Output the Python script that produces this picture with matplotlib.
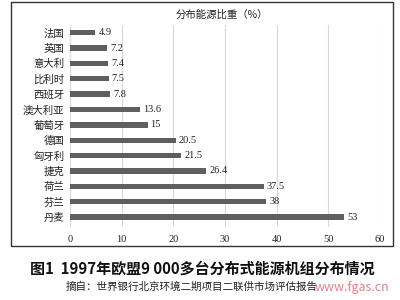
import matplotlib
matplotlib.use("Agg")
import matplotlib.pyplot as plt
from matplotlib.patches import Rectangle

plt.rcParams['font.family'] = ['Noto Sans CJK SC', 'DejaVu Sans']

countries = ['法国', '英国', '意大利', '比利时', '西班牙', '澳大利亚', '葡萄牙',
             '德国', '匈牙利', '捷克', '荷兰', '芬兰', '丹麦']
values = [4.9, 7.2, 7.4, 7.5, 7.8, 13.6, 15, 20.5, 21.5, 26.4, 37.5, 38, 53]
value_labels = ['4.9', '7.2', '7.4', '7.5', '7.8', '13.6', '15', '20.5', '21.5', '26.4', '37.5', '38', '53']
xticks = [0, 10, 20, 30, 40, 50, 60]
chart_title = '分布能源比重（%）'
caption = '图1  1997年欧盟9 000多台分布式能源机组分布情况'
source = '摘自：世界银行北京环境二期项目二联供市场评估报告'

W, H = 400, 300
fig = plt.figure(figsize=(4, 3), dpi=100)
fig.patch.set_facecolor('white')

# outer frame
fig.add_artist(Rectangle((11 / W, 1 - 246 / H), (393 - 11) / W, (246 - 2) / H,
                         transform=fig.transFigure, fill=False, edgecolor='#333333', lw=1.0))

ax = fig.add_axes([70 / W, 1 - 227 / H, (380 - 70) / W, (227 - 25) / H])
n = len(countries)
ypos = list(range(n - 1, -1, -1))
ax.barh(ypos, values, height=0.35, color='#5f5f5f', zorder=3)
for y, v, lab in zip(ypos, values, value_labels):
    ax.text(v + 0.6, y, lab, va='center', ha='left', fontsize=7.5,
            family=['Liberation Serif', 'DejaVu Serif'], color='#222222')
ax.set_xlim(0, 60)
ax.set_ylim(-0.65, n - 0.5)
ax.set_yticks(ypos)
ax.set_yticklabels(countries, fontsize=7.5, color='#222222')
ax.set_xticks(xticks)
ax.set_xticklabels([str(t) for t in xticks], fontsize=7.5,
                   family=['Liberation Serif', 'DejaVu Serif'], color='#222222')
ax.tick_params(length=0, pad=4)
ax.tick_params(axis='x', pad=6)
for s in ax.spines.values():
    s.set_visible(False)
ax.grid(axis='x', color='#d8d8d8', lw=0.8, zorder=0)
ax.set_axisbelow(True)

fig.text(222 / W, 1 - 15 / H, chart_title, ha='center', va='center', fontsize=7.5, color='#222222')
fig.text(202 / W, 1 - 269 / H, caption, ha='center', va='center', fontsize=10.8,
         fontweight='bold', color='#111111')
fig.text(192 / W, 1 - 287 / H, source, ha='center', va='center', fontsize=7.6, color='#222222')
fig.text(352 / W, 1 - 287 / H, 'www.fgas.cn', ha='center', va='center', fontsize=9,
         style='italic', color='#e06a7a', alpha=0.85)

fig.savefig('out.png', dpi=100, facecolor='white')
